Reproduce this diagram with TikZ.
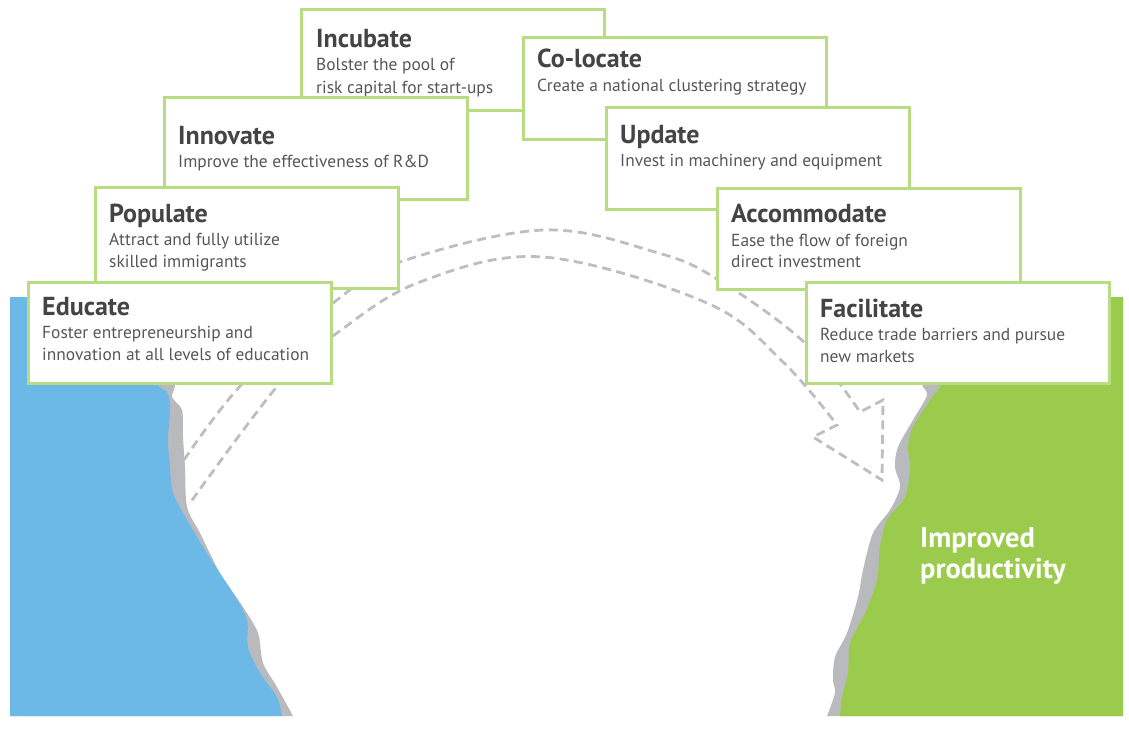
\documentclass[tikz,border=0pt]{standalone}
\usepackage{fontspec}
\setmainfont{PT Sans}
\definecolor{skyblue}{HTML}{6CB8E6}
\definecolor{leafgreen}{HTML}{9BCB4C}
\definecolor{rockgray}{HTML}{B9BABD}
\definecolor{boxgreen}{HTML}{B7DC82}
\definecolor{titlegray}{HTML}{444444}
\definecolor{bodygray}{HTML}{575757}
\definecolor{dashgray}{HTML}{BEBEC1}
\tikzset{
  stepbox/.style={draw=boxgreen, line width=3pt, fill=white, anchor=north west,
    minimum width=303pt, minimum height=101pt, inner sep=0pt, outer sep=0pt},
  boxtitle/.style={anchor=base west, inner sep=0pt, text=titlegray,
    font=\fontsize{26}{30}\selectfont\bfseries},
  boxbody/.style={anchor=base west, inner sep=0pt, text=bodygray,
    font=\fontsize{17.4}{21}\selectfont},
  bigtext/.style={anchor=base west, inner sep=0pt, text=white,
    font=\fontsize{28.5}{32}\selectfont\bfseries},
  flow/.style={draw=dashgray, line width=2.8pt, dash pattern=on 9pt off 5.5pt, line join=miter},
}
\begin{document}
\begin{tikzpicture}[x=1pt,y=-1pt]
\useasboundingbox (0,0) rectangle (1129,749);

% left cliff
\fill[rockgray] (10,297) -- (160,297) -- plot[smooth, tension=0.5] coordinates {(160,297) (170,340) (175,383) (172,397) (182,410) (183,437) (185,467) (187,507) (200,533) (220,573) (243,607) (258,633) (263,663) (277,687) (293,716)} -- (10,716) -- cycle;
\fill[skyblue] (10,297) -- (140,297) -- plot[smooth, tension=0.5] coordinates {(140,297) (150,340) (157,383) (167,392) (170,407) (168,440) (170,467) (173,493) (187,520) (213,563) (233,593) (247,620) (248,647) (260,673) (277,697) (282,716)} -- (10,716) -- cycle;

% right cliff
\fill[rockgray] (1123,297) -- (940,297) -- plot[smooth, tension=0.5] coordinates {(940,297) (930,350) (922,383) (927,395) (913,420) (898,447) (895,467) (900,487) (890,510) (873,533) (863,570) (858,597) (847,633) (835,657) (833,680) (835,693) (827,716)} -- (1123,716) -- cycle;
\fill[leafgreen] (1123,297) -- (955,297) -- plot[smooth, tension=0.5] coordinates {(955,297) (950,350) (942,383) (930,400) (913,427) (908,447) (910,467) (905,497) (887,520) (880,547) (877,580) (865,613) (850,643) (848,673) (842,697) (840,716)} -- (1123,716) -- cycle;

\node[bigtext] (imp1) at (920,547) {Improved};
\node[bigtext] (imp2) at (920,578) {productivity};

% dashed curved arrow
\draw[flow] plot[smooth, tension=0.6] coordinates {(184,460) (243,383) (337,300) (400,262) (543,230) (655,252) (717,279) (805,343) (860,412)}
  -- (883,400) -- (882,480) -- (813,437) -- (837,425)
  -- plot[smooth, tension=0.6] coordinates {(837,425) (783,362) (707,303) (543,257) (420,282) (337,333) (280,383) (190,503)};

% left stack
\node[stepbox] (incubate) at (301,10) {};
\node[boxtitle] (incubate-t) at (316,48) {Incubate};
\node[boxbody] (incubate-a) at (316,71) {Bolster the pool of};
\node[boxbody] (incubate-b) at (316,94) {risk capital for start-ups};

\node[stepbox] (innovate) at (164,98) {};
\node[boxtitle] (innovate-t) at (178,144) {Innovate};
\node[boxbody] (innovate-a) at (178,167) {Improve the effectiveness of R\&D};

\node[stepbox] (populate) at (95,187) {};
\node[boxtitle] (populate-t) at (109,222) {Populate};
\node[boxbody] (populate-a) at (109,245) {Attract and fully utilize};
\node[boxbody] (populate-b) at (109,267) {skilled immigrants};

\node[stepbox] (educate) at (28,282) {};
\node[boxtitle] (educate-t) at (42,315) {Educate};
\node[boxbody] (educate-a) at (42,338) {Foster entrepreneurship and};
\node[boxbody] (educate-b) at (42,360) {innovation at all levels of education};

% right stack
\node[stepbox] (colocate) at (523,38) {};
\node[boxtitle] (colocate-t) at (537,68) {Co-locate};
\node[boxbody] (colocate-a) at (537,92) {Create a national clustering strategy};

\node[stepbox] (update) at (606,108) {};
\node[boxtitle] (update-t) at (620,143) {Update};
\node[boxbody] (update-a) at (620,166) {Invest in machinery and equipment};

\node[stepbox] (accommodate) at (717,188) {};
\node[boxtitle] (accommodate-t) at (731,222) {Accommodate};
\node[boxbody] (accommodate-a) at (731,246) {Ease the flow of foreign};
\node[boxbody] (accommodate-b) at (731,267) {direct investment};

\node[stepbox] (facilitate) at (806,282) {};
\node[boxtitle] (facilitate-t) at (820,317) {Facilitate};
\node[boxbody] (facilitate-a) at (820,340) {Reduce trade barriers and pursue};
\node[boxbody] (facilitate-b) at (820,362) {new markets};
\end{tikzpicture}
\end{document}
